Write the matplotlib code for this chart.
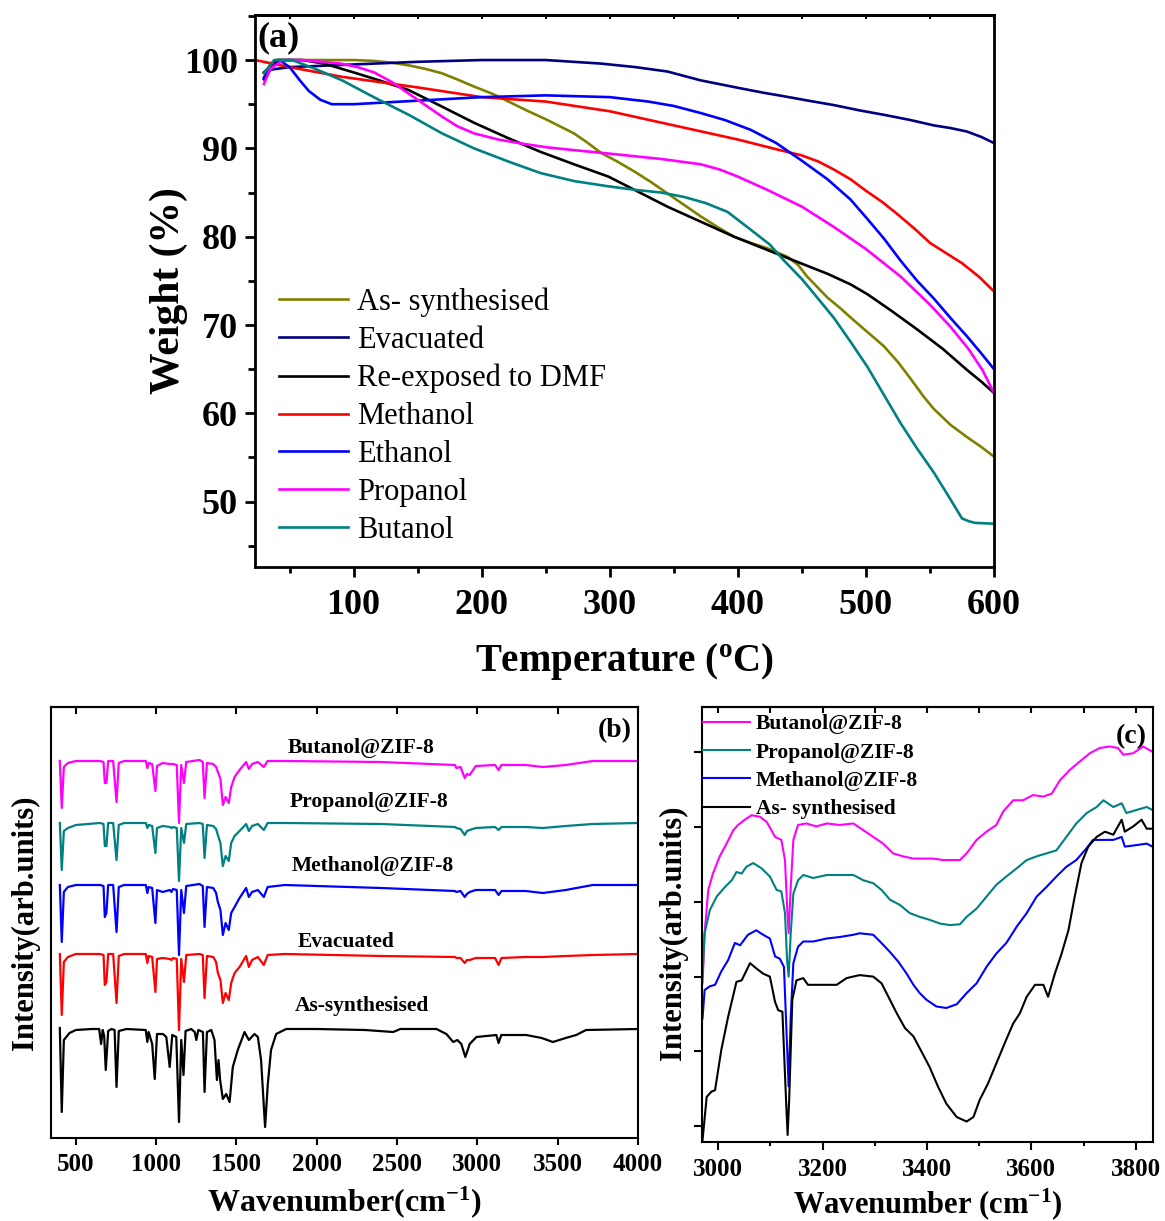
import numpy as np
import matplotlib.pyplot as plt
from matplotlib.ticker import MultipleLocator

plt.rcParams["font.family"] = "Liberation Serif"
plt.rcParams["mathtext.fontset"] = "custom"
plt.rcParams["mathtext.rm"] = "Liberation Serif"
plt.rcParams["mathtext.bf"] = "Liberation Serif:bold"
plt.rcParams["mathtext.it"] = "Liberation Serif:italic"

# ---------------- (a) TGA curves
tga_labels = ["As- synthesised", "Evacuated", "Re-exposed to DMF", "Methanol",
              "Ethanol", "Propanol", "Butanol"]
tga_colors = ["#808000", "#000080", "black", "red", "blue", "magenta", "#008080"]

as_syn_t = [30, 35, 40, 60, 100, 116, 130, 143, 156, 169, 181, 194, 208, 221, 235, 250,
            261, 272, 283, 293, 306, 319, 332, 345, 358, 371, 384, 397, 410, 423, 439,
            447, 454, 462, 470, 480, 490, 502, 514, 525, 535, 545, 553, 566, 579, 590, 600]
as_syn_w = [98.0, 99.6, 100.0, 100.0, 100.0, 99.9, 99.7, 99.4, 99.0, 98.5, 97.8, 97.0,
            96.2, 95.3, 94.3, 93.3, 92.5, 91.7, 90.6, 89.5, 88.5, 87.4, 86.2, 84.9, 83.6,
            82.3, 81.1, 80.0, 79.3, 78.7, 77.7, 76.8, 75.5, 74.3, 73.1, 71.9, 70.6, 69.1,
            67.6, 65.8, 63.9, 61.9, 60.5, 58.7, 57.3, 56.2, 55.1]
evac_t = [30, 35, 50, 100, 150, 200, 250, 293, 320, 345, 371, 402, 420, 436, 455, 475,
          495, 514, 535, 553, 566, 579, 590, 600]
evac_w = [97.8, 98.9, 99.2, 99.5, 99.8, 100.0, 100.0, 99.6, 99.2, 98.7, 97.7, 96.8, 96.3,
          95.9, 95.4, 94.9, 94.3, 93.8, 93.2, 92.6, 92.3, 91.9, 91.3, 90.6]
dmf_t = [30, 40, 60, 77, 100, 120, 143, 168, 194, 220, 246, 272, 299, 322, 345, 371, 397,
         423, 449, 470, 488, 501, 520, 540, 560, 579, 590, 600]
dmf_w = [98.6, 100.0, 100.0, 99.6, 98.6, 97.7, 96.6, 94.8, 92.9, 91.2, 89.6, 88.2, 86.8,
         85.1, 83.4, 81.7, 80.0, 78.5, 77.0, 75.8, 74.6, 73.5, 71.6, 69.5, 67.3, 64.9,
         63.6, 62.3]
meoh_t = [23, 50, 91, 150, 200, 250, 300, 350, 400, 430, 450, 463, 475, 488, 500, 513,
          525, 538, 550, 563, 575, 588, 600]
meoh_w = [100.0, 99.2, 98.1, 96.9, 95.8, 95.3, 94.2, 92.6, 91.0, 89.9, 89.2, 88.5, 87.6,
          86.5, 85.2, 83.9, 82.5, 80.9, 79.3, 78.1, 77.0, 75.5, 73.8]
etoh_t = [30, 35, 42, 50, 58, 65, 74, 83, 100, 150, 200, 250, 300, 330, 350, 371, 390,
          410, 430, 450, 470, 488, 500, 514, 527, 540, 553, 566, 579, 590, 600]
etoh_w = [98.0, 99.0, 100.0, 99.2, 97.7, 96.5, 95.5, 95.0, 95.0, 95.4, 95.8, 96.0, 95.8,
          95.3, 94.8, 94.0, 93.2, 92.1, 90.6, 88.6, 86.5, 84.2, 82.2, 79.8, 77.3, 75.0,
          73.0, 70.8, 68.7, 66.8, 65.0]
prop_t = [30, 35, 45, 60, 90, 103, 116, 130, 143, 156, 169, 181, 194, 213, 233, 252, 272,
          300, 340, 371, 386, 400, 423, 450, 475, 500, 527, 550, 566, 580, 591, 600]
prop_w = [97.3, 99.0, 100.0, 100.0, 99.6, 99.2, 98.6, 97.5, 96.2, 94.9, 93.6, 92.5, 91.7,
          91.0, 90.5, 90.1, 89.8, 89.4, 88.8, 88.2, 87.6, 86.8, 85.3, 83.4, 81.1, 78.6,
          75.5, 72.3, 69.8, 67.3, 64.9, 62.3]
but_t = [30, 38, 52, 70, 91, 117, 143, 169, 194, 221, 246, 272, 299, 320, 340, 358, 375,
         392, 410, 425, 436, 450, 462, 475, 488, 501, 514, 527, 540, 553, 565, 575, 580,
         585, 600]
but_w = [98.5, 100.0, 100.0, 99.0, 97.7, 95.7, 93.8, 91.7, 90.0, 88.5, 87.2, 86.3, 85.7,
         85.3, 85.0, 84.5, 83.8, 82.8, 80.8, 79.1, 77.3, 75.2, 73.1, 70.8, 68.1, 65.3,
         62.1, 58.9, 56.0, 53.3, 50.5, 48.1, 47.8, 47.6, 47.5]

# ---------------- (b) FTIR, full range (depth of each band below the trace baseline)
ftir_labels = ["Butanol@ZIF-8", "Propanol@ZIF-8", "Methanol@ZIF-8", "Evacuated", "As-synthesised"]
ftir_colors = ["magenta", "#008080", "blue", "red", "black"]
ftir_offsets = [377, 315, 253, 184, 110]

zif_wn = [400, 412, 425, 450, 500, 650, 672, 680, 690, 701, 732, 753, 767, 800, 935,
          945, 953, 975, 995, 1005, 1040, 1085, 1095, 1105, 1128, 1142, 1156, 1173, 1187,
          1270, 1290, 1301, 1316, 1355, 1373, 1384, 1400, 1415, 1432, 1452, 1467, 1488,
          1519, 1560, 1577, 1597, 1633, 1670, 1694, 1800, 2400, 2860, 2869, 2895, 2921,
          2935, 2952, 2990, 3110, 3132, 3150, 3300, 3408, 3550, 3718, 4000]
butanol_depth = [0, 47, 6, 2, 0, 0, 1, 22, 22, 0, 0, 41, 2, 0, 0, 7, 2, 3, 30, 5,
                 2, 3, 3, 3, 4, 62, 4, 22, 1, -1, 1, 37, 2, 3, 6, 11, 18, 44, 36, 42,
                 26, 16, 9, 1, 8, 3, 1, 6, 0, 0, 1, 4, 7, 6, 17, 13, 14, 5, 4, 9,
                 4, 4, 6, 4, 0, 0]
propanol_depth = [0, 47, 8, 5, 2, 0, 1, 23, 23, 0, 0, 37, 2, 0, 0, 5, 2, 3, 30, 5,
                  3, 4, 5, 4, 5, 58, 5, 20, 1, 0, 1, 35, 2, 3, 6, 12, 20, 43, 33, 38,
                  20, 13, 8, 1, 8, 3, 1, 7, 0, 0, 1, 4, 5, 6, 12, 8, 7, 5, 4, 7,
                  4, 4, 5, 3, 1, 0]
methanol_depth = [0, 57, 7, 2, 0, 0, 1, 32, 28, 0, 0, 47, 2, 0, 0, 8, 2, 3, 38, 5,
                  7, 5, 7, 4, 5, 70, 5, 28, 1, -1, 1, 42, 2, 3, 8, 17, 25, 50, 38, 45,
                  28, 22, 13, 3, 12, 7, 5, 12, 2, 0, 3, 6, 7, 6, 12, 9, 7, 5, 5, 10,
                  6, 6, 8, 5, 0, 0]
evacuated_depth = [0, 61, 8, 3, 0, 0, 1, 31, 28, 0, 0, 49, 2, 0, 0, 9, 2, 3, 38, 5,
                   4, 5, 6, 4, 5, 76, 5, 28, 1, 0, 1, 44, 2, 3, 8, 19, 26, 49, 39, 46,
                   29, 19, 13, 2, 13, 6, 3, 11, 1, 0, 2, 3, 4, 4, 9, 6, 6, 4, 4, 11,
                   4, 3, 3, 2, 1, 0]
assyn_wn = [400, 412, 425, 440, 460, 500, 600, 645, 657, 667, 676, 686, 701, 722, 741,
            753, 767, 815, 935, 945, 953, 975, 991, 1005, 1042, 1063, 1084, 1100, 1125,
            1142, 1156, 1170, 1183, 1218, 1240, 1250, 1262, 1291, 1301, 1316, 1343, 1363,
            1378, 1388, 1398, 1415, 1436, 1457, 1477, 1508, 1550, 1577, 1612, 1633, 1653,
            1678, 1695, 1715, 1747, 1809, 2000, 2300, 2476, 2520, 2745, 2807, 2849, 2875,
            2900, 2925, 2952, 2994, 3118, 3132, 3149, 3304, 3400, 3470, 3550, 3615, 3677, 4000]
assyn_depth = [0, 84, 12, 9, 5, 2, 1, 1, 16, 2, 8, 42, 3, 1, 2, 59, 3, 1, 2, 14,
               4, 16, 51, 6, 6, 9, 39, 7, 9, 94, 12, 47, 3, 1, 4, 12, 2, 4, 64, 4,
               2, 12, 52, 32, 52, 71, 66, 74, 39, 22, 4, 12, 6, 9, 32, 99, 56, 22, 6, 1,
               1, 2, 4, 1, 1, 6, 14, 12, 16, 29, 16, 9, 7, 15, 7, 7, 10, 14, 10, 7,
               2, 1]

# ---------------- (c) FTIR, 2970-3830 cm-1
c_labels = ["Butanol@ZIF-8", "Propanol@ZIF-8", "Methanol@ZIF-8", "As- synthesised"]
c_colors = ["magenta", "#008080", "blue", "black"]
c_but_wn = [2970, 2974, 2981, 2990, 3003, 3016, 3029, 3038, 3051, 3064, 3080, 3093, 3109,
            3121, 3128, 3132, 3135, 3139, 3144, 3153, 3169, 3188, 3208, 3233, 3259, 3278,
            3297, 3316, 3335, 3354, 3374, 3393, 3412, 3431, 3450, 3463, 3476, 3495, 3514,
            3533, 3546, 3565, 3584, 3603, 3623, 3639, 3655, 3674, 3693, 3712, 3731, 3750,
            3766, 3776, 3795, 3814, 3832]
c_but_i = [1.91, 2.58, 3.16, 3.38, 3.61, 3.78, 3.96, 4.03, 4.10, 4.16, 4.14, 4.07, 3.87,
           3.83, 3.56, 2.94, 2.58, 3.20, 3.83, 4.03, 4.05, 4.01, 4.05, 4.03, 4.05, 3.96,
           3.87, 3.78, 3.65, 3.61, 3.58, 3.58, 3.58, 3.56, 3.56, 3.56, 3.65, 3.83, 3.94,
           4.03, 4.21, 4.36, 4.36, 4.43, 4.41, 4.45, 4.63, 4.77, 4.88, 4.99, 5.06, 5.08,
           5.06, 4.97, 4.99, 5.08, 5.01]
c_prop_wn = [2970, 2974, 2984, 2997, 3013, 3026, 3035, 3045, 3054, 3067, 3083, 3099, 3112,
             3121, 3128, 3132, 3135, 3139, 3144, 3153, 3163, 3182, 3208, 3233, 3259, 3278,
             3297, 3313, 3329, 3348, 3367, 3386, 3405, 3425, 3444, 3463, 3476, 3495, 3514,
             3533, 3552, 3572, 3591, 3610, 3629, 3648, 3667, 3686, 3706, 3725, 3738, 3757,
             3773, 3782, 3801, 3821, 3832]
c_prop_i = [2.00, 2.58, 2.89, 3.07, 3.20, 3.29, 3.40, 3.38, 3.47, 3.52, 3.45, 3.34, 3.16,
            3.14, 2.85, 2.22, 2.00, 2.58, 3.11, 3.29, 3.36, 3.32, 3.36, 3.36, 3.36, 3.29,
            3.25, 3.16, 3.03, 2.96, 2.85, 2.80, 2.76, 2.71, 2.69, 2.70, 2.80, 2.91, 3.07,
            3.23, 3.34, 3.45, 3.56, 3.61, 3.65, 3.69, 3.87, 4.05, 4.19, 4.27, 4.36, 4.27,
            4.32, 4.19, 4.23, 4.27, 4.23]
c_meth_wn = [2970, 2974, 2984, 2994, 3006, 3019, 3032, 3042, 3057, 3073, 3086, 3099, 3109,
             3118, 3126, 3131, 3135, 3139, 3144, 3153, 3163, 3182, 3208, 3233, 3259, 3271,
             3297, 3310, 3329, 3345, 3361, 3374, 3386, 3399, 3418, 3437, 3457, 3476, 3495,
             3514, 3533, 3552, 3572, 3591, 3610, 3629, 3648, 3667, 3686, 3706, 3718, 3738,
             3757, 3773, 3779, 3801, 3821, 3832]
c_meth_i = [1.44, 1.82, 1.87, 1.89, 2.07, 2.22, 2.45, 2.42, 2.56, 2.62, 2.56, 2.51, 2.27,
            2.24, 2.13, 1.24, 0.53, 1.46, 2.18, 2.40, 2.47, 2.47, 2.51, 2.53, 2.56, 2.58,
            2.56, 2.47, 2.33, 2.20, 2.04, 1.89, 1.78, 1.69, 1.60, 1.58, 1.63, 1.78, 1.91,
            2.13, 2.31, 2.45, 2.67, 2.85, 3.07, 3.20, 3.34, 3.47, 3.56, 3.72, 3.83, 3.83,
            3.83, 3.87, 3.74, 3.76, 3.78, 3.74]
c_as_wn = [2970, 2978, 2987, 2994, 3006, 3019, 3035, 3045, 3061, 3073, 3086, 3099, 3109,
           3115, 3123, 3130, 3133, 3136, 3142, 3150, 3163, 3172, 3188, 3208, 3227, 3246,
           3271, 3297, 3313, 3329, 3342, 3358, 3374, 3393, 3405, 3421, 3437, 3457, 3476,
           3489, 3501, 3517, 3530, 3549, 3565, 3578, 3591, 3607, 3623, 3632, 3645, 3658,
           3671, 3683, 3696, 3709, 3725, 3741, 3757, 3773, 3779, 3795, 3811, 3821, 3832]
c_as_i = [-0.19, 0.39, 0.46, 0.48, 1.02, 1.46, 1.93, 1.95, 2.18, 2.11, 2.04, 2.00, 1.66,
          1.55, 1.53, 0.35, -0.12, 0.35, 1.69, 1.95, 1.98, 1.89, 1.89, 1.89, 1.89, 1.98,
          2.02, 2.00, 1.91, 1.69, 1.51, 1.31, 1.20, 0.95, 0.79, 0.53, 0.30, 0.12, 0.06,
          0.12, 0.35, 0.57, 0.79, 1.11, 1.37, 1.51, 1.73, 1.89, 1.89, 1.73, 2.04, 2.31,
          2.62, 3.07, 3.52, 3.74, 3.87, 3.94, 3.90, 4.10, 3.94, 4.01, 4.10, 3.98, 3.98]


def bold_ticks(ax):
    for lab in ax.get_xticklabels() + ax.get_yticklabels():
        lab.set_fontweight("bold")


W, H = 1165, 1221
fig = plt.figure(figsize=(W / 100, H / 100), dpi=100)


def axes_px(left, top, right, bottom):
    return fig.add_axes([left / W, 1 - bottom / H, (right - left) / W, (bottom - top) / H])


############################ (a)
ax = axes_px(255, 15, 994, 567)
tga = [(as_syn_t, as_syn_w), (evac_t, evac_w), (dmf_t, dmf_w), (meoh_t, meoh_w),
       (etoh_t, etoh_w), (prop_t, prop_w), (but_t, but_w)]
for (t, w), lab, col in zip(tga, tga_labels, tga_colors):
    ax.plot(t, w, color=col, linewidth=1.9, label=lab)
ax.set_xlim(23, 600)
ax.set_ylim(42.6, 105.1)
ax.xaxis.set_major_locator(MultipleLocator(100))
ax.xaxis.set_minor_locator(MultipleLocator(50))
ax.yaxis.set_major_locator(MultipleLocator(10))
ax.yaxis.set_minor_locator(MultipleLocator(5))
ax.tick_params(which="major", direction="out", length=7.5, width=2, labelsize=26)
ax.tick_params(axis="x", which="major", pad=8)
ax.tick_params(axis="y", which="major", pad=5)
ax.tick_params(axis="x", which="minor", direction="out", length=4, width=2)
ax.tick_params(axis="y", which="minor", direction="out", length=5, width=2)
for s in ax.spines.values():
    s.set_linewidth(2)
top = ax.secondary_xaxis("top")
top.xaxis.set_major_locator(MultipleLocator(100))
top.xaxis.set_minor_locator(MultipleLocator(50))
top.tick_params(which="both", direction="in", length=3, width=1.5, labeltop=False)
top.spines["top"].set_linewidth(2)
bold_ticks(ax)
ax.set_xlabel(r"Temperature ($^{\mathbf{o}}$C)", fontsize=28, fontweight="bold", labelpad=14)
ax.set_ylabel("Weight (%)", fontsize=30, fontweight="bold")
ax.yaxis.set_label_coords(-0.0907, 0.5)
ax.text(0.003, 0.988, "(a)", transform=ax.transAxes, fontsize=26, fontweight="bold",
        ha="left", va="top")
ax.legend(loc="upper left", bbox_to_anchor=(0.0325, 0.506), frameon=False, fontsize=22,
          handlelength=2.25, handletextpad=0.3, labelspacing=0.29, borderpad=0,
          borderaxespad=0)

############################ (b)
bx = axes_px(51, 707, 638, 1138)
zif_depths = [butanol_depth, propanol_depth, methanol_depth, evacuated_depth]
for depth, off, col in zip(zif_depths, ftir_offsets[:4], ftir_colors[:4]):
    bx.plot(zif_wn, off - np.array(depth), color=col, linewidth=1.6)
bx.plot(assyn_wn, ftir_offsets[4] - np.array(assyn_depth), color=ftir_colors[4], linewidth=1.6)
bx.set_xlim(345, 4000)
bx.set_ylim(0, 431)
bx.set_yticks([])
bx.set_xticks([500, 1000, 1500, 2000, 2500, 3000, 3500, 4000])
bx.tick_params(axis="x", direction="out", length=5, width=1.5, labelsize=18, pad=6)
for s in bx.spines.values():
    s.set_linewidth(1.5)
btop = bx.secondary_xaxis("top")
btop.set_xticks([500, 1000, 1500, 2000, 2500, 3000, 3500, 4000])
btop.tick_params(direction="in", length=5, width=1.5, labeltop=False)
btop.spines["top"].set_linewidth(1.5)
bold_ticks(bx)
bx.set_xlabel(r"Wavenumber(cm$^{\mathbf{-1}}$)", fontsize=23, fontweight="bold", labelpad=6)
bx.set_ylabel("Intensity(arb.units)", fontsize=22, fontweight="bold", labelpad=8)
label_x = [2276, 2326, 2351, 2183, 2283]
label_y = [385, 331, 267, 191, 127]
for lab, lx, ly in zip(ftir_labels, label_x, label_y):
    bx.text(lx, ly, lab, fontsize=15.5, fontweight="bold", ha="center", va="baseline")
bx.text(0.99, 0.975, "(b)", transform=bx.transAxes, fontsize=20, fontweight="bold",
        ha="right", va="top")

############################ (c)
cx = axes_px(702, 707, 1153, 1142)
c_data = [(c_but_wn, c_but_i), (c_prop_wn, c_prop_i), (c_meth_wn, c_meth_i), (c_as_wn, c_as_i)]
for (x, y), lab, col in zip(c_data, c_labels, c_colors):
    cx.plot(x, y, color=col, linewidth=1.5, label=lab)
cx.set_xlim(2969, 3833)
cx.set_ylim(-0.214, 5.609)
cx.xaxis.set_major_locator(MultipleLocator(200))
cx.xaxis.set_minor_locator(MultipleLocator(100))
cx.set_yticks([0, 1, 2, 3, 4, 5])
cx.set_yticklabels([])
cx.tick_params(which="major", direction="out", length=5.5, width=1.5, labelsize=18, pad=6)
cx.tick_params(which="minor", direction="out", length=3, width=1.5)
for s in cx.spines.values():
    s.set_linewidth(1.5)
ctop = cx.secondary_xaxis("top")
ctop.xaxis.set_major_locator(MultipleLocator(200))
ctop.xaxis.set_minor_locator(MultipleLocator(100))
ctop.tick_params(which="both", direction="in", length=4, width=1.5, labeltop=False)
ctop.spines["top"].set_linewidth(1.5)
bold_ticks(cx)
cx.set_xlabel(r"Wavenumber (cm$^{\mathbf{-1}}$)", fontsize=22, fontweight="bold", labelpad=4)
cx.set_ylabel("Intensity(arb.units)", fontsize=22, fontweight="bold")
cx.yaxis.set_label_coords(-0.031, 0.48)
cx.text(0.987, 0.96, "(c)", transform=cx.transAxes, fontsize=20, fontweight="bold",
        ha="right", va="top")
cx.legend(loc="upper left", bbox_to_anchor=(0.002, 0.983), frameon=False,
          prop={"size": 15.5, "weight": "bold"}, handlelength=2.2, handletextpad=0.25,
          labelspacing=0.38, borderpad=0, borderaxespad=0)

plt.savefig("out.png", dpi=100)
